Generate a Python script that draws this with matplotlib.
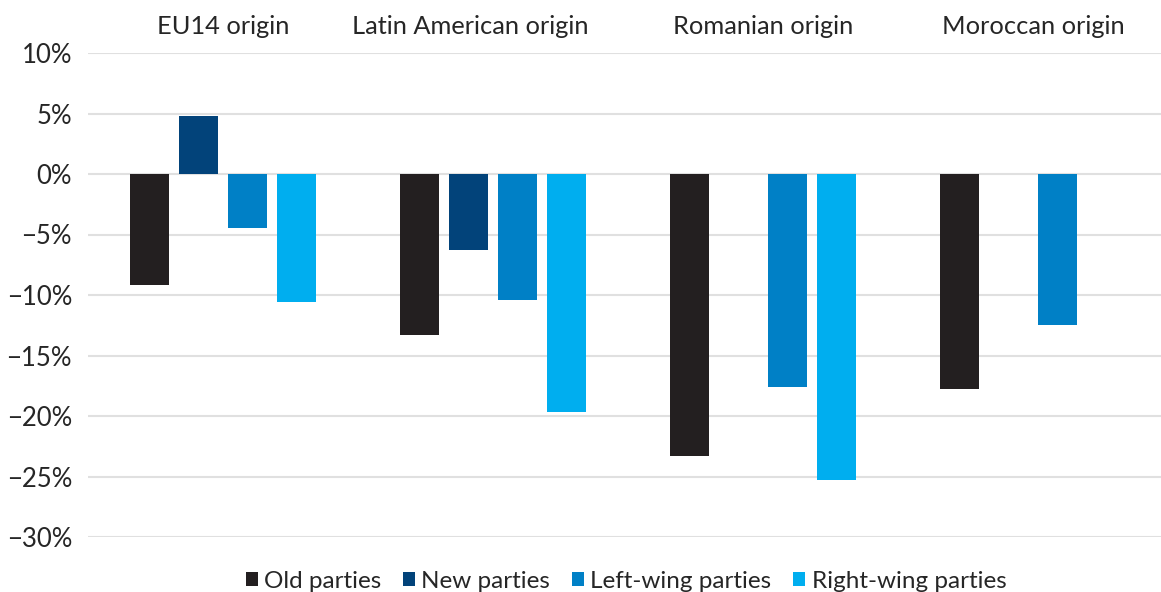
import numpy as np
import matplotlib
matplotlib.use("Agg")
import matplotlib.pyplot as plt
import matplotlib.transforms as mtransforms
from matplotlib.ticker import FuncFormatter, MultipleLocator

plt.rcParams['font.family'] = ['Lato', 'DejaVu Sans']

origins = ["EU14 origin", "Latin American origin", "Romanian origin", "Moroccan origin"]
series = ["Old parties", "New parties", "Left-wing parties", "Right-wing parties"]

old_parties = [-9.2, -13.3, -23.3, -17.8]
new_parties = [4.8, -6.3, np.nan, np.nan]
left_wing = [-4.5, -10.4, -17.6, -12.5]
right_wing = [-10.6, -19.7, -25.3, np.nan]

colors = ["#231f20", "#02437a", "#0080c6", "#00aeef"]
values = [old_parties, new_parties, left_wing, right_wing]

fig = plt.figure(figsize=(11.61, 5.92), dpi=100)
ax = fig.add_axes([88 / 1161, 1 - 537 / 592, 1080 / 1161, (537 - 53) / 592])

x = np.arange(len(origins))
slot = 0.1815
width = 0.145
for i, (vals, col, name) in enumerate(zip(values, colors, series)):
    ax.bar(x + (i - 1.5) * slot, vals, width=width, color=col, label=name, zorder=3)

ax.set_xlim(-0.5, len(origins) - 0.5)
ax.set_ylim(-30, 10)
ax.yaxis.set_major_locator(MultipleLocator(5))
ax.yaxis.set_major_formatter(FuncFormatter(lambda v, p: f"{v:.0f}%".replace("-", "\u2212")))
ax.grid(axis='y', color="#e0e0e0", linewidth=1.5, zorder=0)
for s in ax.spines.values():
    s.set_visible(False)

ax.xaxis.tick_top()
ax.set_xticks(x)
ax.set_xticklabels(origins)
ax.tick_params(axis='x', length=0, pad=11, labelsize=18.3, labelcolor="#262626")
ax.tick_params(axis='y', length=0, pad=11.5, labelsize=18.5, labelcolor="#262626")

# the Latin American label sits a little left of its group in the original
lbl = ax.get_xticklabels()[1]
lbl.set_transform(lbl.get_transform() + mtransforms.ScaledTranslation(-0.23, 0, fig.dpi_scale_trans))

leg = ax.legend(loc='upper center', bbox_to_anchor=((626 - 88) / 1080, -0.025),
                ncol=4, frameon=False,
                fontsize=17.5, handlelength=0.5, handleheight=0.5, handletextpad=0.25,
                columnspacing=0.9, labelcolor="#262626")

fig.savefig("out.png", dpi=100)
